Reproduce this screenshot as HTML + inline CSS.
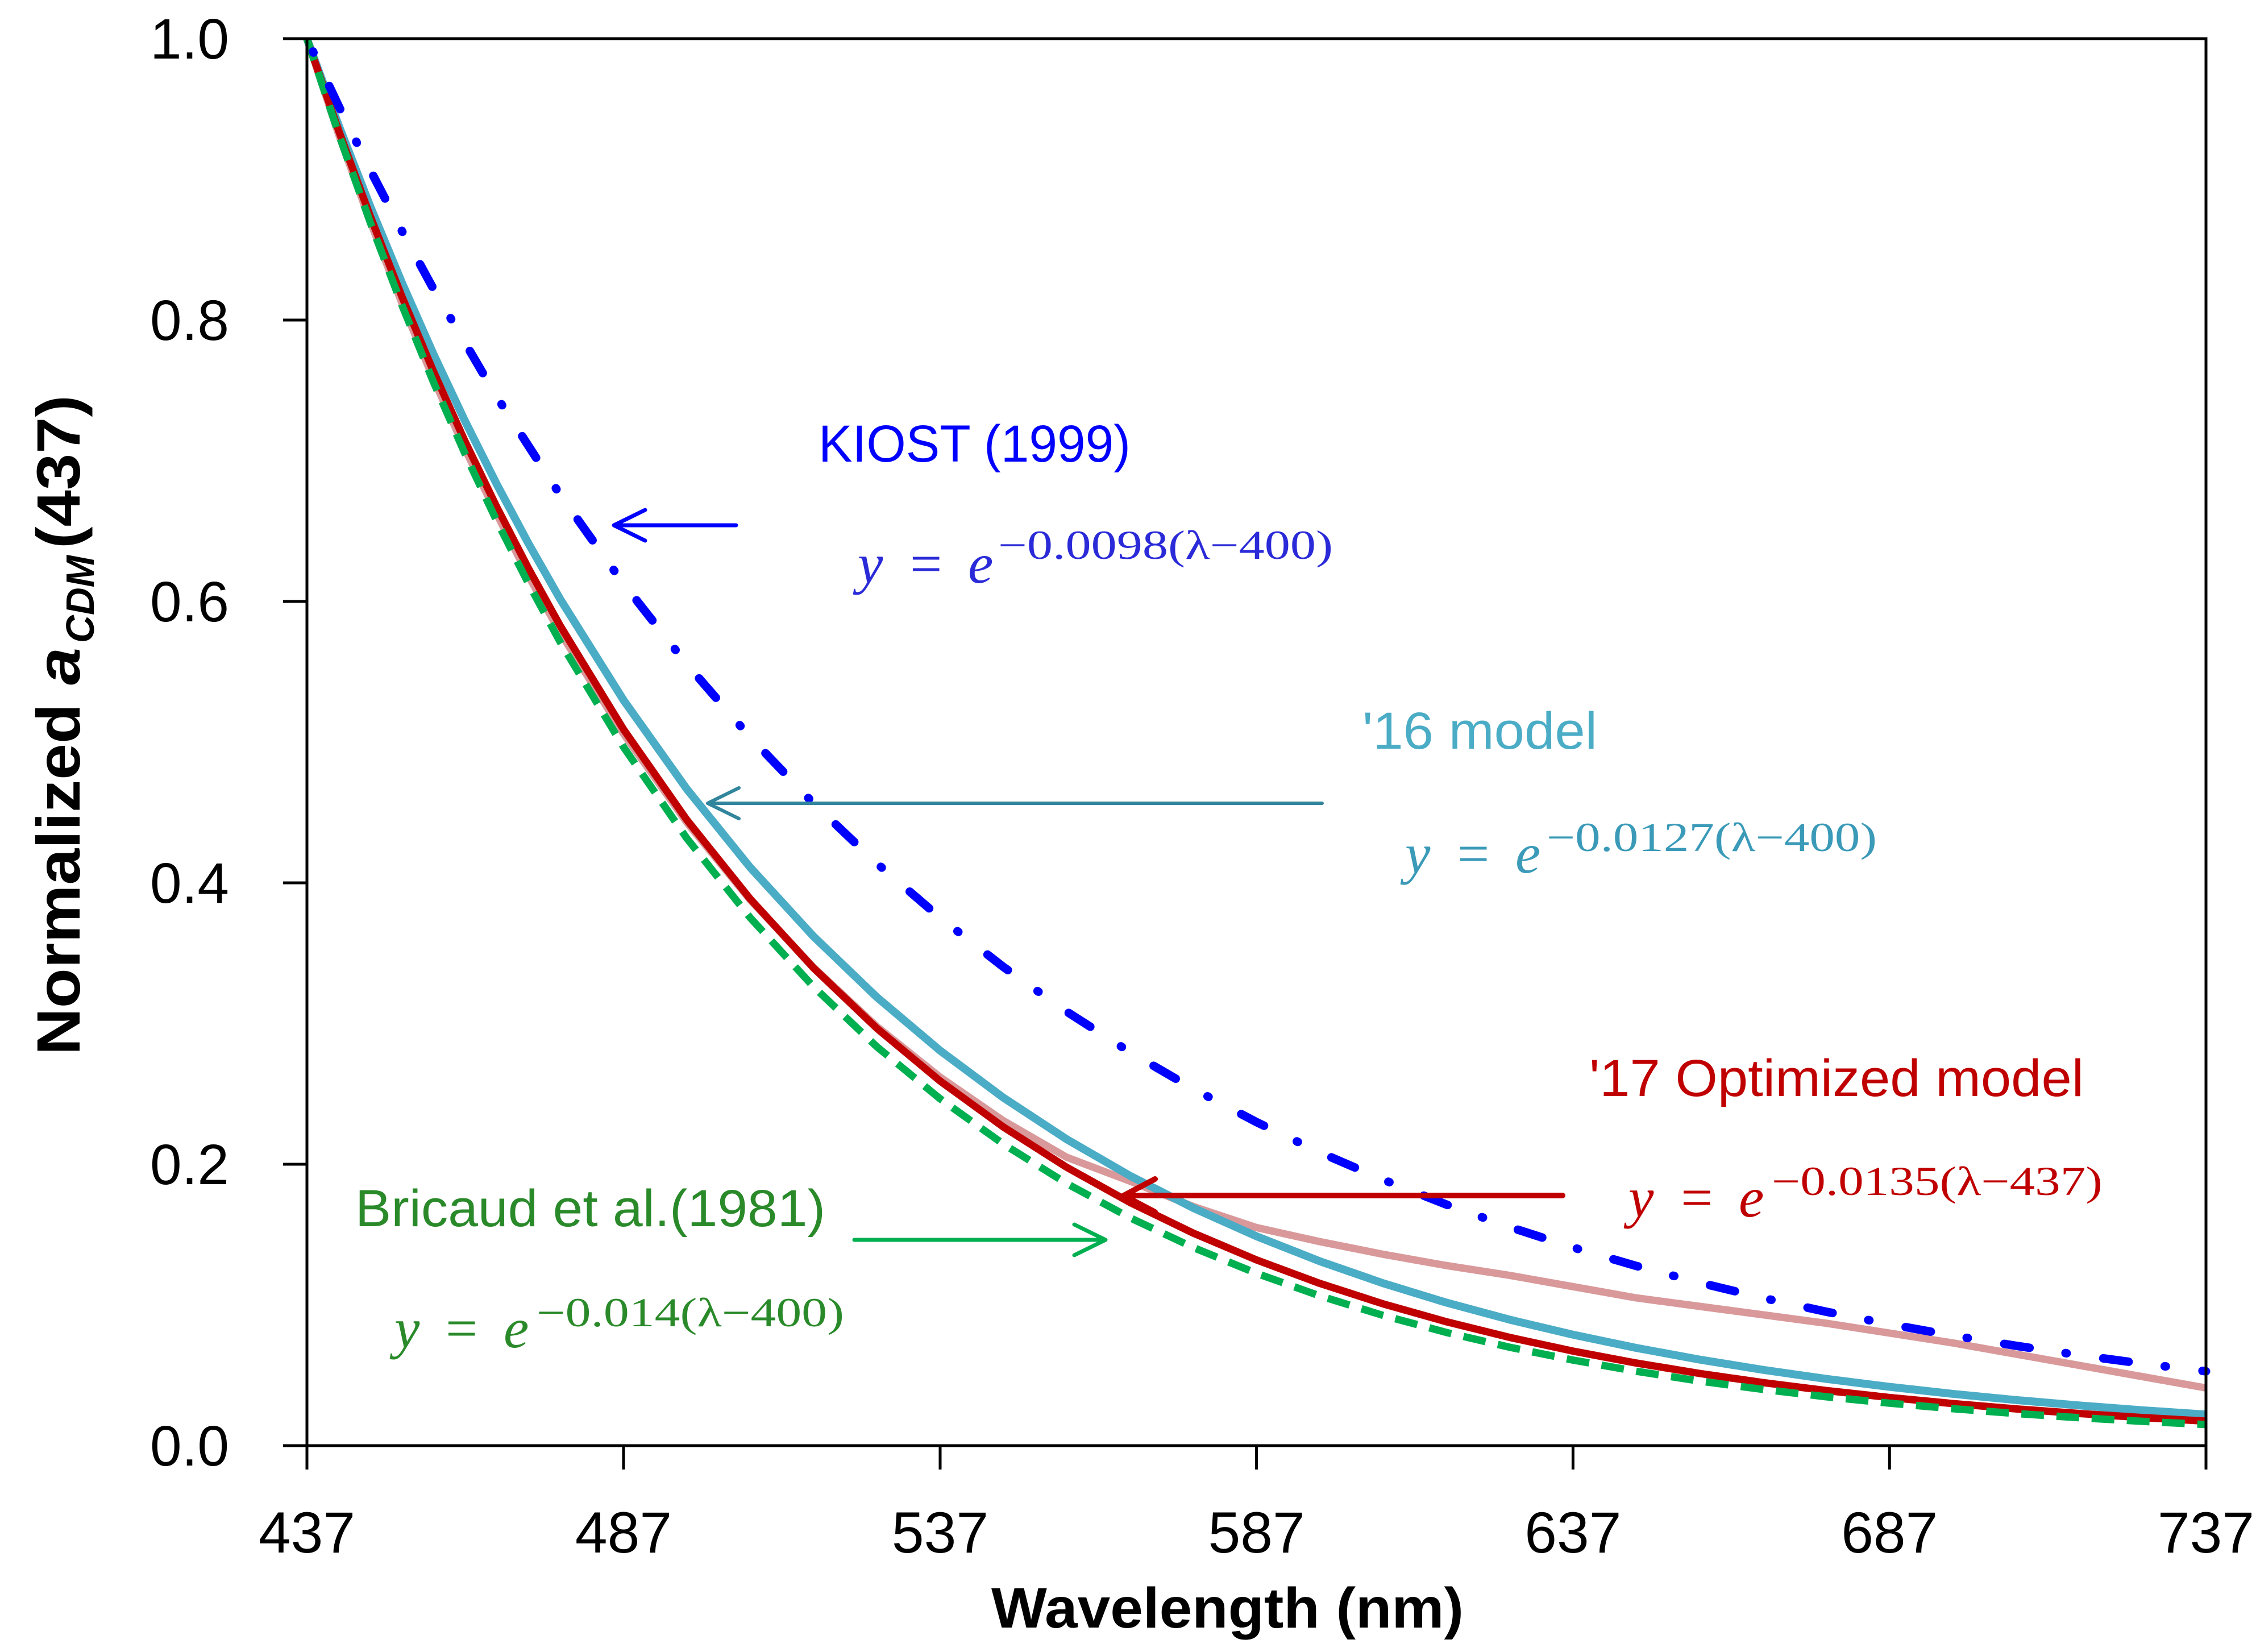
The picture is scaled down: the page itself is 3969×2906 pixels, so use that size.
<!DOCTYPE html>
<html>
<head>
<meta charset="utf-8">
<style>
html,body{margin:0;padding:0;background:#fff;overflow:hidden;}
svg{display:block;}
.s{font-family:"Liberation Sans",sans-serif;}
.m{font-family:"Liberation Serif",serif;}
</style>
</head>
<body>
<svg xmlns="http://www.w3.org/2000/svg" width="3969" height="2906" viewBox="0 0 3969 2906">
<rect x="0" y="0" width="3969" height="2906" fill="#fff"/>

<!-- curves -->
<g fill="none" stroke-linejoin="round">
<polyline stroke="#d9999a" stroke-width="13" points="540,68 595.7,236.3 651.4,389.8 707.1,533.3 762.7,667.0 818.4,790.7 874.1,904.6 929.8,1013.5 985.5,1112.5 1096.9,1290.7 1208.2,1446.6 1319.6,1582.7 1431.0,1701.5 1542.3,1805.5 1653.7,1894.6 1765.1,1971.3 1876.4,2035.6 1987.8,2077.7 2099.2,2122.3 2210.6,2159.4 2321.9,2184.1 2433.3,2206.4 2544.7,2226.2 2656.0,2243.5 2767.4,2263.3 2878.8,2283.1 2990.1,2298.0 3101.5,2312.8 3212.9,2327.7 3324.3,2345 3435.6,2362.3 3547.0,2382.1 3658.4,2401.9 3769.7,2421.7 3881,2441.5"/>
<polyline stroke="#4bacc6" stroke-width="14" points="540,68 595.7,220.3 651.4,363.2 707.1,497.3 762.7,623.2 818.4,741.3 874.1,852.1 929.8,956.2 985.5,1053.8 1096.9,1231.4 1208.2,1387.8 1319.6,1525.6 1431.0,1647.0 1542.3,1753.8 1653.7,1847.9 1765.1,1930.8 1876.4,2003.9 1987.8,2068.2 2099.2,2124.8 2210.6,2174.7 2321.9,2218.6 2433.3,2257.3 2544.7,2291.4 2656.0,2321.4 2767.4,2347.8 2878.8,2371.1 2990.1,2391.6 3101.5,2409.6 3212.9,2425.6 3324.3,2439.6 3435.6,2451.9 3547.0,2462.8 3658.4,2472.3 3769.7,2480.8 3881,2488.2"/>
<polyline stroke="#c00000" stroke-width="13" points="540,68 595.7,229.5 651.4,380.5 707.1,521.7 762.7,653.6 818.4,777.0 874.1,892.2 929.8,1000.0 985.5,1100.7 1096.9,1282.8 1208.2,1442.0 1319.6,1581.0 1431.0,1702.5 1542.3,1808.6 1653.7,1901.4 1765.1,1982.4 1876.4,2053.2 1987.8,2115.1 2099.2,2169.1 2210.6,2216.3 2321.9,2257.6 2433.3,2293.6 2544.7,2325.1 2656.0,2352.6 2767.4,2376.7 2878.8,2397.7 2990.1,2416.0 3101.5,2432.1 3212.9,2446.1 3324.3,2458.3 3435.6,2469.0 3547.0,2478.4 3658.4,2486.5 3769.7,2493.6 3881,2499.9"/>
<polyline stroke="#00b050" stroke-width="13" stroke-dasharray="40 22" points="540,68 595.7,235.3 651.4,391.3 707.1,536.8 762.7,672.4 818.4,798.9 874.1,916.8 929.8,1026.7 985.5,1129.3 1096.9,1314.0 1208.2,1474.5 1319.6,1614.1 1431.0,1735.5 1542.3,1841.0 1653.7,1932.7 1765.1,2012.4 1876.4,2081.7 1987.8,2142.0 2099.2,2194.4 2210.6,2239.9 2321.9,2279.5 2433.3,2313.9 2544.7,2343.9 2656.0,2369.9 2767.4,2392.5 2878.8,2412.2 2990.1,2429.3 3101.5,2444.1 3212.9,2457.0 3324.3,2468.3 3435.6,2478.0 3547.0,2486.5 3658.4,2493.9 3769.7,2500.3 3881,2505.9"/>
<polyline stroke="#0000ff" stroke-width="15" stroke-linecap="round" stroke-dasharray="45 64 2 65" stroke-dashoffset="84" points="540,68 595.7,186.3 651.4,299.0 707.1,406.3 762.7,508.5 874.1,698.4 985.5,870.6 1096.9,1026.7 1208.2,1168.3 1319.6,1296.6 1431.0,1413.0 1542.3,1518.5 1653.7,1614.1 1765.1,1700.8 1876.4,1779.4 1987.8,1850.7 2099.2,1915.3 2210.6,1973.9 2321.9,2027.1 2433.3,2075.2 2544.7,2118.9 2656.0,2158.5 2767.4,2194.4 2878.8,2226.9 2990.1,2256.4 3101.5,2283.2 3212.9,2307.4 3324.3,2329.4 3435.6,2349.4 3547.0,2367.4 3658.4,2383.8 3769.7,2398.7 3881,2412.2"/>
</g>

<!-- axes -->
<rect x="540" y="68" width="3341" height="2475" fill="none" stroke="#000" stroke-width="5"/>
<g stroke="#000" stroke-width="5">
<line x1="498" y1="68" x2="540" y2="68"/>
<line x1="498" y1="563" x2="540" y2="563"/>
<line x1="498" y1="1058" x2="540" y2="1058"/>
<line x1="498" y1="1553" x2="540" y2="1553"/>
<line x1="498" y1="2048" x2="540" y2="2048"/>
<line x1="498" y1="2543" x2="540" y2="2543"/>
<line x1="540" y1="2543" x2="540" y2="2585"/>
<line x1="1097" y1="2543" x2="1097" y2="2585"/>
<line x1="1654" y1="2543" x2="1654" y2="2585"/>
<line x1="2210.6" y1="2543" x2="2210.6" y2="2585"/>
<line x1="2767.4" y1="2543" x2="2767.4" y2="2585"/>
<line x1="3324.3" y1="2543" x2="3324.3" y2="2585"/>
<line x1="3881" y1="2543" x2="3881" y2="2585"/>
</g>

<!-- tick labels -->
<g class="s" font-size="100" fill="#000" text-anchor="end">
<text x="403" y="103">1.0</text>
<text x="403" y="598">0.8</text>
<text x="403" y="1093">0.6</text>
<text x="403" y="1588">0.4</text>
<text x="403" y="2083">0.2</text>
<text x="403" y="2578">0.0</text>
</g>
<g class="s" font-size="102" fill="#000" text-anchor="middle">
<text x="540" y="2731">437</text>
<text x="1097" y="2731">487</text>
<text x="1654" y="2731">537</text>
<text x="2210.6" y="2731">587</text>
<text x="2767.4" y="2731">637</text>
<text x="3324.3" y="2731">687</text>
<text x="3881" y="2731">737</text>
</g>

<!-- axis titles -->
<text class="s" x="1744" y="2863" font-size="100" font-weight="bold" textLength="831" lengthAdjust="spacingAndGlyphs">Wavelength (nm)</text>
<g transform="rotate(-90)" class="s" fill="#000">
<text x="-1856" y="140" font-size="108" font-weight="bold" textLength="618" lengthAdjust="spacingAndGlyphs">Normalized</text>
<text x="-1205" y="140" font-size="108" font-weight="bold" font-style="italic" textLength="66" lengthAdjust="spacingAndGlyphs">a</text>
<text x="-1131" y="165" font-size="70" font-weight="bold" font-style="italic" textLength="154" lengthAdjust="spacingAndGlyphs">CDM</text>
<text x="-965" y="140" font-size="108" font-weight="bold" textLength="270" lengthAdjust="spacingAndGlyphs">(437)</text>
</g>

<!-- annotation titles -->
<g class="s" font-size="92">
<text x="1440" y="812" fill="#0000ff" textLength="549" lengthAdjust="spacingAndGlyphs">KIOST (1999)</text>
<text x="2397" y="1317" fill="#4bacc6" textLength="413" lengthAdjust="spacingAndGlyphs">'16 model</text>
<text x="2796" y="1928" fill="#c00000" textLength="870" lengthAdjust="spacingAndGlyphs">'17 Optimized model</text>
<text x="625" y="2157" fill="#2a8a2a" textLength="827" lengthAdjust="spacingAndGlyphs">Bricaud et al.(1981)</text>
</g>

<!-- equations -->
<g class="m">
<g fill="#2a2ad8">
<text x="1509" y="1025" font-size="100" font-style="italic">y</text>
<text x="1601" y="1025" font-size="100">=</text>
<text x="1703" y="1025" font-size="100" font-style="italic">e</text>
<text x="1756" y="983" font-size="72" textLength="589" lengthAdjust="spacingAndGlyphs">−0.0098(λ−400)</text>
</g>
<g fill="#3a9ab8">
<text x="2472" y="1535" font-size="100" font-style="italic">y</text>
<text x="2564" y="1535" font-size="100">=</text>
<text x="2666" y="1535" font-size="100" font-style="italic">e</text>
<text x="2721" y="1497" font-size="72" textLength="581" lengthAdjust="spacingAndGlyphs">−0.0127(λ−400)</text>
</g>
<g fill="#c00000">
<text x="2865" y="2140" font-size="100" font-style="italic">y</text>
<text x="2957" y="2140" font-size="100">=</text>
<text x="3059" y="2140" font-size="100" font-style="italic">e</text>
<text x="3117" y="2102" font-size="72" textLength="582" lengthAdjust="spacingAndGlyphs">−0.0135(λ−437)</text>
</g>
<g fill="#2a8a2a">
<text x="694" y="2370" font-size="100" font-style="italic">y</text>
<text x="784" y="2370" font-size="100">=</text>
<text x="886" y="2370" font-size="100" font-style="italic">e</text>
<text x="944" y="2333" font-size="72" textLength="541" lengthAdjust="spacingAndGlyphs">−0.014(λ−400)</text>
</g>
</g>

<!-- arrows -->
<g fill="none" stroke-linecap="round" stroke-linejoin="round">
<g stroke="#0000ff" stroke-width="7">
<line x1="1295" y1="924" x2="1082" y2="924"/>
<polyline points="1135,897 1080,924 1135,951"/>
</g>
<g stroke="#31859c" stroke-width="6">
<line x1="2326" y1="1413" x2="1247" y2="1413"/>
<polyline points="1300,1386 1245,1413 1300,1440"/>
</g>
<g stroke="#c00000" stroke-width="10">
<line x1="2749" y1="2103" x2="1979" y2="2103"/>
<polyline points="2032,2074 1977,2103 2032,2132"/>
</g>
<g stroke="#00b050" stroke-width="7">
<line x1="1503" y1="2181" x2="1943" y2="2181"/>
<polyline points="1890,2154 1945,2181 1890,2208"/>
</g>
</g>
</svg>
</body>
</html>
